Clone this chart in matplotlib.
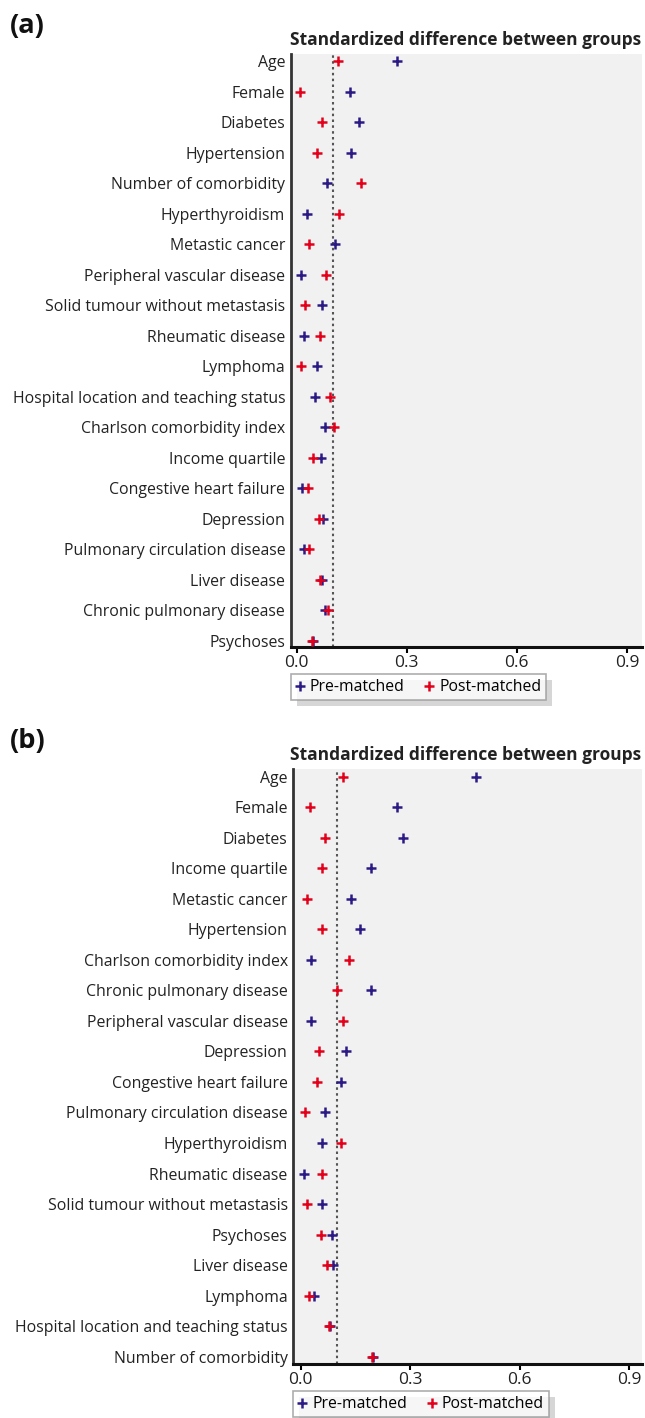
import matplotlib
matplotlib.use("Agg")
import matplotlib.pyplot as plt
from matplotlib.patches import Rectangle

plt.rcParams['font.family'] = ['Open Sans', 'DejaVu Sans']

# panel (a)
labels_a = ["Age", "Female", "Diabetes", "Hypertension", "Number of comorbidity",
            "Hyperthyroidism", "Metastic cancer", "Peripheral vascular disease",
            "Solid tumour without metastasis", "Rheumatic disease", "Lymphoma",
            "Hospital location and teaching status", "Charlson comorbidity index",
            "Income quartile", "Congestive heart failure", "Depression",
            "Pulmonary circulation disease", "Liver disease",
            "Chronic pulmonary disease", "Psychoses"]
pre_a = [0.273, 0.145, 0.169, 0.147, 0.083, 0.028, 0.105, 0.012, 0.068, 0.019,
         0.055, 0.049, 0.077, 0.066, 0.015, 0.073, 0.021, 0.070, 0.077, 0.046]
post_a = [0.113, 0.009, 0.068, 0.055, 0.175, 0.115, 0.034, 0.080, 0.023, 0.064,
          0.012, 0.091, 0.102, 0.045, 0.032, 0.061, 0.035, 0.063, 0.085, 0.043]

# panel (b)
labels_b = ["Age", "Female", "Diabetes", "Income quartile", "Metastic cancer",
            "Hypertension", "Charlson comorbidity index", "Chronic pulmonary disease",
            "Peripheral vascular disease", "Depression", "Congestive heart failure",
            "Pulmonary circulation disease", "Hyperthyroidism", "Rheumatic disease",
            "Solid tumour without metastasis", "Psychoses", "Liver disease",
            "Lymphoma", "Hospital location and teaching status",
            "Number of comorbidity"]
pre_b = [0.480, 0.263, 0.280, 0.193, 0.137, 0.162, 0.028, 0.193, 0.028, 0.125,
         0.112, 0.067, 0.059, 0.008, 0.058, 0.085, 0.088, 0.037, 0.080, 0.199]
post_b = [0.116, 0.026, 0.067, 0.058, 0.017, 0.058, 0.132, 0.101, 0.116, 0.050,
          0.045, 0.012, 0.110, 0.058, 0.017, 0.055, 0.073, 0.023, 0.078, 0.196]

xticks = [0.0, 0.3, 0.6, 0.9]
threshold = 0.1

blue = '#2b1a84'
red = '#e2001a'
W, H = 645, 1418

fig = plt.figure(figsize=(W / 100, H / 100), dpi=100)


def panel(rect, labels, pre, post, xlim, ylim, tag, tag_y, title_y, leg_xy):
    ax = fig.add_axes(rect)
    ax.set_facecolor('#f1f1f1')
    ys = list(range(len(labels)))
    ax.axvline(threshold, color='#555555', ls=(0, (1.2, 1.6)), lw=1.5, zorder=1)
    ax.plot(pre, ys, ls='none', marker='+', ms=7, mew=1.8, color=blue,
            label='Pre-matched', zorder=3)
    ax.plot(post, ys, ls='none', marker='+', ms=7, mew=1.8, color=red,
            label='Post-matched', zorder=4)
    ax.set_xlim(*xlim)
    ax.set_ylim(*ylim)
    ax.set_yticks(ys)
    ax.set_yticklabels(labels, fontsize=11.4, color='#222222')
    ax.tick_params(axis='y', length=0, pad=4)
    ax.set_xticks(xticks)
    ax.set_xticklabels(['%.1f' % t for t in xticks], fontsize=12.5, color='#222222')
    ax.tick_params(axis='x', length=4, width=1.5, direction='out', pad=1.5)
    for s in ['top', 'right']:
        ax.spines[s].set_visible(False)
    ax.spines['left'].set_linewidth(2)
    ax.spines['left'].set_color('#333333')
    ax.spines['bottom'].set_linewidth(2.2)
    ax.spines['bottom'].set_color('#111111')
    fig.text(641 / W, 1 - title_y / H, 'Standardized difference between groups',
             ha='right', va='baseline', fontsize=12.5, fontweight='bold', color='#222222')
    fig.text(10 / W, 1 - tag_y / H, tag, ha='left', va='baseline',
             fontsize=19.5, fontweight='bold', color='#111111')
    leg = fig.legend(loc='upper left', bbox_to_anchor=(leg_xy[0] / W, 1 - leg_xy[1] / H),
                     ncol=2, fontsize=11.3, frameon=True, fancybox=False,
                     handlelength=0.5, handletextpad=0.4, columnspacing=1.3,
                     borderpad=0.32, borderaxespad=0, handles=ax.lines[1:3])
    leg.get_frame().set_edgecolor('#999999')
    leg.get_frame().set_linewidth(1.2)
    leg.set_zorder(5)
    return ax, leg


ax_a, leg_a = panel([290.7 / W, 1 - 647 / H, (642 - 290.7) / W, (647 - 54.3) / H],
                    labels_a, pre_a, post_a, (-0.016, 0.941), (19.2, -0.22),
                    '(a)', 33, 45, (290.7, 674))
ax_b, leg_b = panel([293.3 / W, 1 - 1364 / H, (642 - 293.3) / W, (1364 - 769.3) / H],
                    labels_b, pre_b, post_b, (-0.02, 0.935), (19.24, -0.24),
                    '(b)', 748, 760, (293.3, 1391))

# drop shadows behind the legends
fig.canvas.draw()
for leg in (leg_a, leg_b):
    bb = leg.get_window_extent()
    fig.patches.append(Rectangle((bb.x0 + 6, bb.y0 - 6), bb.width, bb.height,
                                 transform=None, facecolor='#d6d6d6',
                                 edgecolor='none', zorder=0))

fig.savefig('out.png', dpi=100)
